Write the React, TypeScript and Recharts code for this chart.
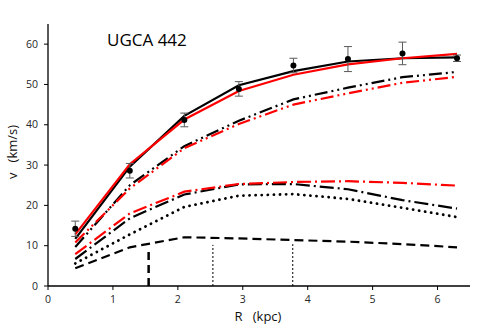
import {
  LineChart,
  Line,
  XAxis,
  YAxis,
  ErrorBar,
  ReferenceLine,
  Customized,
} from 'recharts';

// galactocentric radius (kpc) of each ring
const radius = [0.42, 1.26, 2.1, 2.94, 3.78, 4.62, 5.46, 6.3];
// observed rotation curve with errors
const vObs = [14.2, 28.6, 41.2, 48.9, 54.7, 56.3, 57.7, 56.5];
const vErr = [1.9, 1.8, 1.7, 1.8, 1.8, 3.1, 2.8, 0.8];
// model fits
const totalBlack = [11.7, 29.6, 42.2, 49.8, 53.3, 55.7, 56.5, 56.7];
const totalRed = [12.8, 30.2, 41.3, 48.4, 52.4, 55.0, 56.5, 57.6];
const haloBlack = [9.7, 25.0, 34.7, 41.0, 46.3, 49.2, 51.8, 53.1];
const haloRed = [10.8, 24.2, 34.2, 40.2, 45.0, 47.8, 50.4, 51.9];
const gasRed = [7.9, 18.0, 23.4, 25.3, 25.8, 26.0, 25.6, 24.9];
const gasBlack = [6.7, 16.8, 22.7, 25.2, 25.3, 24.0, 21.3, 19.2];
const dotted = [5.6, 12.8, 19.6, 22.4, 22.8, 21.6, 19.4, 17.1];
const dashed = [4.4, 9.6, 12.1, 11.8, 11.4, 11.0, 10.4, 9.6];

// vertical markers: [R, top, thick]
const markers: [number, number, boolean][] = [
  [1.55, 8.6, true],
  [2.54, 10.2, false],
  [3.77, 10.4, false],
];

const xTicks = [0, 1, 2, 3, 4, 5, 6];
const yTicks = [0, 10, 20, 30, 40, 50, 60];

const data = radius.map((r, i) => ({
  r,
  vObs: vObs[i],
  vErr: vErr[i],
  totalBlack: totalBlack[i],
  totalRed: totalRed[i],
  haloBlack: haloBlack[i],
  haloRed: haloRed[i],
  gasRed: gasRed[i],
  gasBlack: gasBlack[i],
  dotted: dotted[i],
  dashed: dashed[i],
}));

const FONT = '"Open Sans", "Liberation Sans", sans-serif';
const tickStyle = { fill: '#262626', fontSize: 10.5, fontFamily: FONT };

function Title() {
  return (
    <text x={107} y={46} fontSize={17} fontFamily={FONT} fill="#000">
      UGCA 442
    </text>
  );
}

function YLabel() {
  return (
    <text
      x={12}
      y={152}
      transform="rotate(-90 12 152)"
      textAnchor="middle"
      dominantBaseline="central"
      fontSize={13}
      fontFamily={FONT}
      fill="#111"
    >
      {'v\u00a0\u00a0\u00a0(km/s)'}
    </text>
  );
}

function XLabel() {
  return (
    <text x={258} y={321} textAnchor="middle" fontSize={13} fontFamily={FONT} fill="#111">
      {'R\u00a0\u00a0\u00a0(kpc)'}
    </text>
  );
}

export default function App() {
  return (
    <div style={{ position: 'absolute', left: 0, top: 0, width: 486, height: 328, background: '#fff' }}>
      <LineChart width={486} height={328} data={data} margin={{ top: 24, right: 16, bottom: 0, left: 0 }}>
        <XAxis
          dataKey="r"
          type="number"
          domain={[0, 6.5]}
          ticks={xTicks}
          tick={tickStyle}
          tickSize={4}
          tickMargin={6}
          axisLine={{ stroke: '#000', strokeWidth: 1.3 }}
          tickLine={{ stroke: '#000' }}
          height={42}
        />
        <YAxis
          type="number"
          domain={[0, 65]}
          ticks={yTicks}
          tick={tickStyle}
          tickSize={4}
          tickMargin={6}
          axisLine={{ stroke: '#000', strokeWidth: 1.3 }}
          tickLine={{ stroke: '#000' }}
          width={48}
        />
        {markers.map(([x, top, thick], i) => (
          <ReferenceLine
            key={i}
            segment={[{ x, y: 0 }, { x, y: top }]}
            stroke="#000"
            strokeWidth={thick ? 2.5 : 1}
            strokeDasharray={thick ? '8 5' : '2 2'}
          />
        ))}
        <Line dataKey="dashed" type="linear" stroke="#000" strokeWidth={2.2} strokeDasharray="9 5" dot={false} isAnimationActive={false} />
        <Line dataKey="dotted" type="linear" stroke="#000" strokeWidth={2.8} strokeLinecap="round" strokeDasharray="0.1 6" dot={false} isAnimationActive={false} />
        <Line dataKey="gasBlack" type="linear" stroke="#000" strokeWidth={2.2} strokeDasharray="14 4 2 4" dot={false} isAnimationActive={false} />
        <Line dataKey="gasRed" type="linear" stroke="#ff0000" strokeWidth={2.2} strokeDasharray="14 4 2 4" dot={false} isAnimationActive={false} />
        <Line dataKey="haloBlack" type="linear" stroke="#000" strokeWidth={2.2} strokeDasharray="13 4 2 4 2 4" dot={false} isAnimationActive={false} />
        <Line dataKey="haloRed" type="linear" stroke="#ff0000" strokeWidth={2.2} strokeDasharray="13 4 2 4 2 4" dot={false} isAnimationActive={false} />
        <Line dataKey="totalBlack" type="linear" stroke="#000" strokeWidth={2.2} dot={false} isAnimationActive={false} />
        <Line dataKey="totalRed" type="linear" stroke="#ff0000" strokeWidth={2.2} dot={false} isAnimationActive={false} />
        <Line
          dataKey="vObs"
          stroke="none"
          dot={{ r: 3, fill: '#000', stroke: '#000', strokeWidth: 0 }}
          isAnimationActive={false}
        >
          <ErrorBar dataKey="vErr" width={4} stroke="#595959" strokeWidth={1} direction="y" />
        </Line>
        <Customized component={Title} />
        <Customized component={YLabel} />
        <Customized component={XLabel} />
      </LineChart>
    </div>
  );
}
